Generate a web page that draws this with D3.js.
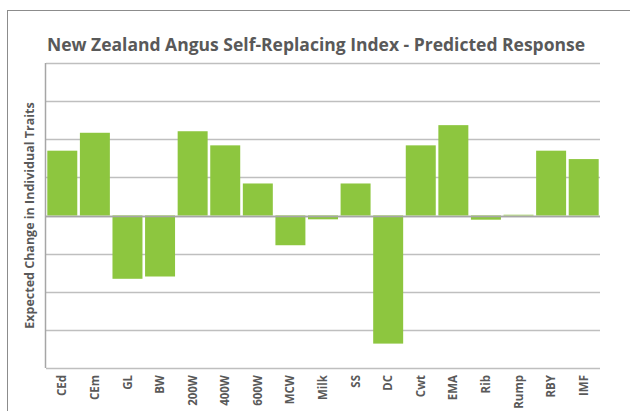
<!DOCTYPE html>
<html>
<head>
<meta charset="utf-8">
<script src="https://cdn.jsdelivr.net/npm/d3@7"></script>
<style>
  body { margin: 0; background: #fff; }
  svg { display: block; font-family: "Open Sans", sans-serif; }
</style>
</head>
<body>
<div class="chart"></div>
<script>
const traits = ["CEd", "CEm", "GL", "BW", "200W", "400W", "600W", "MCW", "Milk",
  "SS", "DC", "Cwt", "EMA", "Rib", "Rump", "RBY", "IMF"]
const response = [1.70, 2.17, -1.66, -1.60, 2.21, 1.84, 0.84, -0.78, -0.10,
  0.84, -3.36, 1.84, 2.37, -0.11, 0.02, 1.70, 1.48]
const gridTicks = [-4, -3, -2, -1, 0, 1, 2, 3, 4]

const width = 630, height = 411
const margin = {top: 63, right: 30, bottom: 43, left: 46}

const svg = d3.select(".chart").append("svg")
  .attr("width", width)
  .attr("height", height)

// outer chart frame
svg.append("rect")
  .attr("x", 7.5).attr("y", 10.5)
  .attr("width", 640).attr("height", 420)
  .attr("fill", "none")
  .attr("stroke", "#8c8c8c")

svg.append("text")
  .attr("x", 316).attr("y", 51)
  .attr("text-anchor", "middle")
  .attr("font-size", 17.5)
  .attr("font-weight", "bold")
  .attr("fill", "#595959")
  .text("New Zealand Angus Self-Replacing Index - Predicted Response")

const x = d3.scaleBand()
  .domain(traits)
  .range([margin.left, width - margin.right])
  .paddingInner(0.08)
  .paddingOuter(0.04)

const y = d3.scaleLinear()
  .domain([-4, 4])
  .range([height - margin.bottom, margin.top])

const g = svg.append("g")

g.selectAll("line.grid")
  .data(gridTicks)
  .enter().append("line")
    .attr("class", "grid")
    .attr("x1", margin.left)
    .attr("x2", width - margin.right)
    .attr("y1", (d) => Math.round(y(d)) + 0.5)
    .attr("y2", (d) => Math.round(y(d)) + 0.5)
    .attr("stroke", (d) => d === 0 ? "#a6a6a6" : "#bfbfbf")
    .attr("stroke-width", 1.5)

g.selectAll("rect.bar")
  .data(response)
  .enter().append("rect")
    .attr("class", "bar")
    .attr("x", (d, i) => x(traits[i]))
    .attr("width", x.bandwidth())
    .attr("y", (d) => y(Math.max(0, d)))
    .attr("height", (d) => Math.abs(y(d) - y(0)))
    .attr("fill", "#8dc63f")

// zero line over the bars
g.append("line")
  .attr("x1", margin.left).attr("x2", width - margin.right)
  .attr("y1", Math.round(y(0)) + 0.5).attr("y2", Math.round(y(0)) + 0.5)
  .attr("stroke", "#a6a6a6")
  .attr("stroke-width", 1.5)

g.append("line")
  .attr("x1", margin.left - 0.5).attr("x2", margin.left - 0.5)
  .attr("y1", margin.top).attr("y2", height - margin.bottom)
  .attr("stroke", "#a6a6a6")
  .attr("stroke-width", 1.5)

const xAxis = svg.append("g")
  .attr("transform", "translate(0," + (height - margin.bottom) + ")")
  .call(d3.axisBottom(x).tickSize(0).tickPadding(0))
xAxis.select(".domain").remove()
xAxis.selectAll("text")
  .attr("transform", "rotate(-90)")
  .attr("text-anchor", "end")
  .attr("x", -7)
  .attr("y", 0)
  .attr("dy", "0.35em")
  .attr("font-family", "Open Sans, sans-serif")
  .attr("font-size", 11.5)
  .attr("font-weight", "bold")
  .attr("fill", "#595959")

svg.append("text")
  .attr("transform", "translate(34," + y(0) + ") rotate(-90)")
  .attr("text-anchor", "middle")
  .attr("font-size", 12.5)
  .attr("font-weight", "bold")
  .attr("fill", "#595959")
  .text("Expected Change in Individual Traits")
</script>
</body>
</html>
